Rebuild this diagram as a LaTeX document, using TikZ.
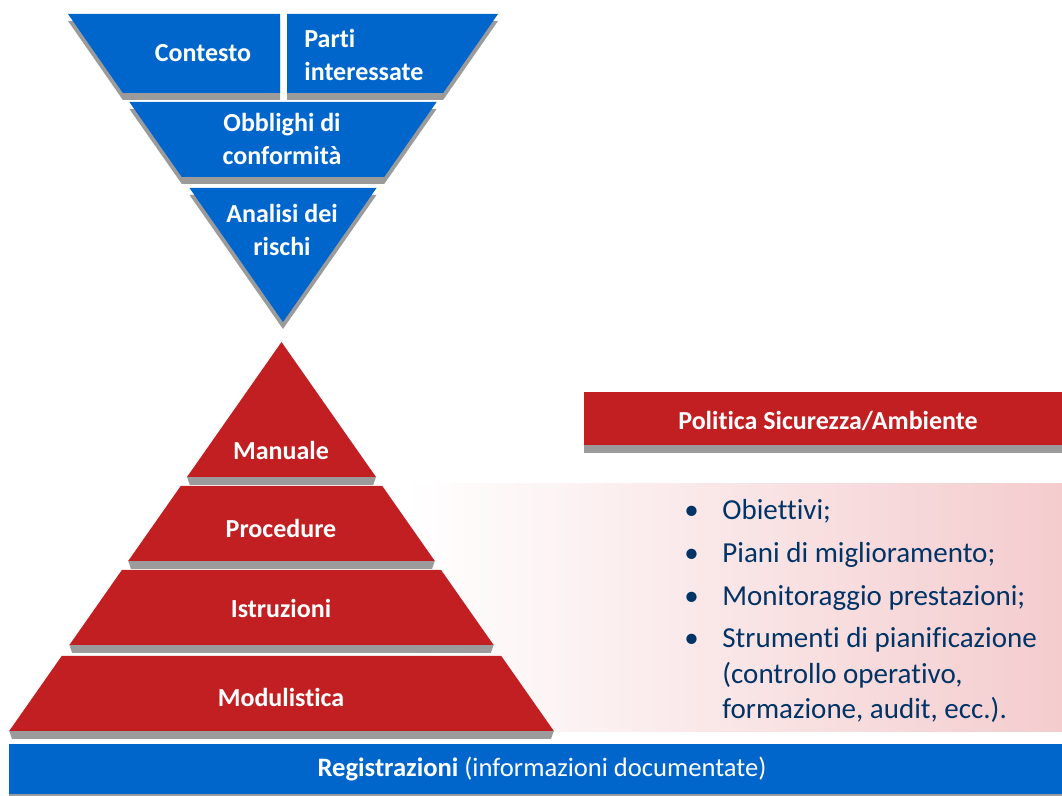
\documentclass[tikz,border=0pt]{standalone}
\usepackage{fontspec}
\setmainfont{Carlito}[Ligatures=NoCommon]
\usepackage{xcolor}
\usepackage{tikz}

\definecolor{isoblue}{RGB}{0,102,204}
\definecolor{isored}{RGB}{193,31,33}
\definecolor{shadowgray}{RGB}{155,155,155}
\definecolor{navy}{RGB}{0,51,102}
\definecolor{pinkfade}{RGB}{244,204,206}

\begin{document}
\begin{tikzpicture}[x=0.5pt,y=-0.5pt,
                    font=\bfseries\fontsize{13}{16.5}\selectfont]
  \tikzstyle{blueband}=[fill=isoblue]
  \tikzstyle{redband}=[fill=isored]
  \tikzstyle{shadow}=[fill=shadowgray]
  \tikzstyle{label}=[text=white,align=center,inner sep=0pt]
  \tikzstyle{item}=[text=navy,anchor=base west,inner sep=0pt,
                    font=\mdseries\fontsize{14.5}{17.5}\selectfont]

  \useasboundingbox (0,0) rectangle (1062,796);

  % soft band behind the list
  \shade[left color=white,right color=pinkfade] (405,484) rectangle (1062,732);

  % upside-down funnel, shadows first
  \fill[shadow,shift={(0,7)}] (68,14) -- (280,14) -- (280,93) -- (122.9,93) -- cycle;
  \fill[shadow,shift={(0,7)}] (287,14) -- (498,14) -- (443.1,93) -- (287,93) -- cycle;
  \fill[shadow,shift={(0,7)}] (129.4,102) -- (436.6,102) -- (384.2,177) -- (181.8,177) -- cycle;
  \fill[shadow,shift={(0,7)}] (189.5,188) -- (376.5,188) -- (283,322) -- cycle;

  \fill[blueband] (68,14) -- (280,14) -- (280,93) -- (122.9,93) -- cycle;
  \fill[blueband] (287,14) -- (498,14) -- (443.1,93) -- (287,93) -- cycle;
  \fill[blueband] (129.4,102) -- (436.6,102) -- (384.2,177) -- (181.8,177) -- cycle;
  \fill[blueband] (189.5,188) -- (376.5,188) -- (283,322) -- cycle;

  % pyramid
  \fill[shadow] (187,477) -- (376,477) -- (373.2,485) -- (189.8,485) -- cycle;
  \fill[shadow] (128.2,561) -- (434.8,561) -- (432,569) -- (131,569) -- cycle;
  \fill[shadow] (69.4,645) -- (493.6,645) -- (490.8,653) -- (72.2,653) -- cycle;
  \fill[shadow] (9.2,731) -- (553.8,731) -- (551,739) -- (12,739) -- cycle;

  \fill[redband] (281.5,342) -- (376,477) -- (187,477) -- cycle;
  \fill[redband] (180.7,486) -- (382.3,486) -- (434.8,561) -- (128.2,561) -- cycle;
  \fill[redband] (121.9,570) -- (441.1,570) -- (493.6,645) -- (69.4,645) -- cycle;
  \fill[redband] (61.7,656) -- (501.3,656) -- (553.8,731) -- (9.2,731) -- cycle;

  % bars
  \fill[shadow] (584,445) rectangle (1062,453);
  \fill[redband] (584,392) rectangle (1062,445);
  \fill[shadow] (9,794) rectangle (1062,796);
  \fill[blueband] (9,744) rectangle (1062,794);

  \node[label] (contesto)   at (203,53)  {Contesto};
  \node[label,align=left,anchor=west] (parti) at (304,55) {Parti\\interessate};
  \node[label] (obblighi)   at (282,139) {Obblighi di\\conformità};
  \node[label] (analisi)    at (282,230) {Analisi dei\\rischi};

  \node[label] (manuale)    at (281,450) {Manuale};
  \node[label] (procedure)  at (281,528) {Procedure};
  \node[label] (istruzioni) at (281,608) {Istruzioni};
  \node[label] (modulistica) at (281,697) {Modulistica};

  \node[label] (politica)   at (828,421) {Politica Sicurezza/Ambiente};
  \node[label,font=\bfseries\fontsize{13.3}{16}\selectfont] (registrazioni) at (542,769)
       {Registrazioni \mdseries(informazioni documentate)};

  \node[item] (obiettivi)   at (684,520) {\makebox[19pt][l]{•}Obiettivi;};
  \node[item] (piani)       at (684,563) {\makebox[19pt][l]{•}Piani di miglioramento;};
  \node[item] (monitoraggio) at (684,606) {\makebox[19pt][l]{•}Monitoraggio prestazioni;};
  \node[item] (strumenti)   at (684,648) {\makebox[19pt][l]{•}Strumenti di pianificazione};
  \node[item] (controllo)   at (722,684) {(controllo operativo,};
  \node[item] (formazione)  at (722,719) {formazione, audit, ecc.).};
\end{tikzpicture}
\end{document}
